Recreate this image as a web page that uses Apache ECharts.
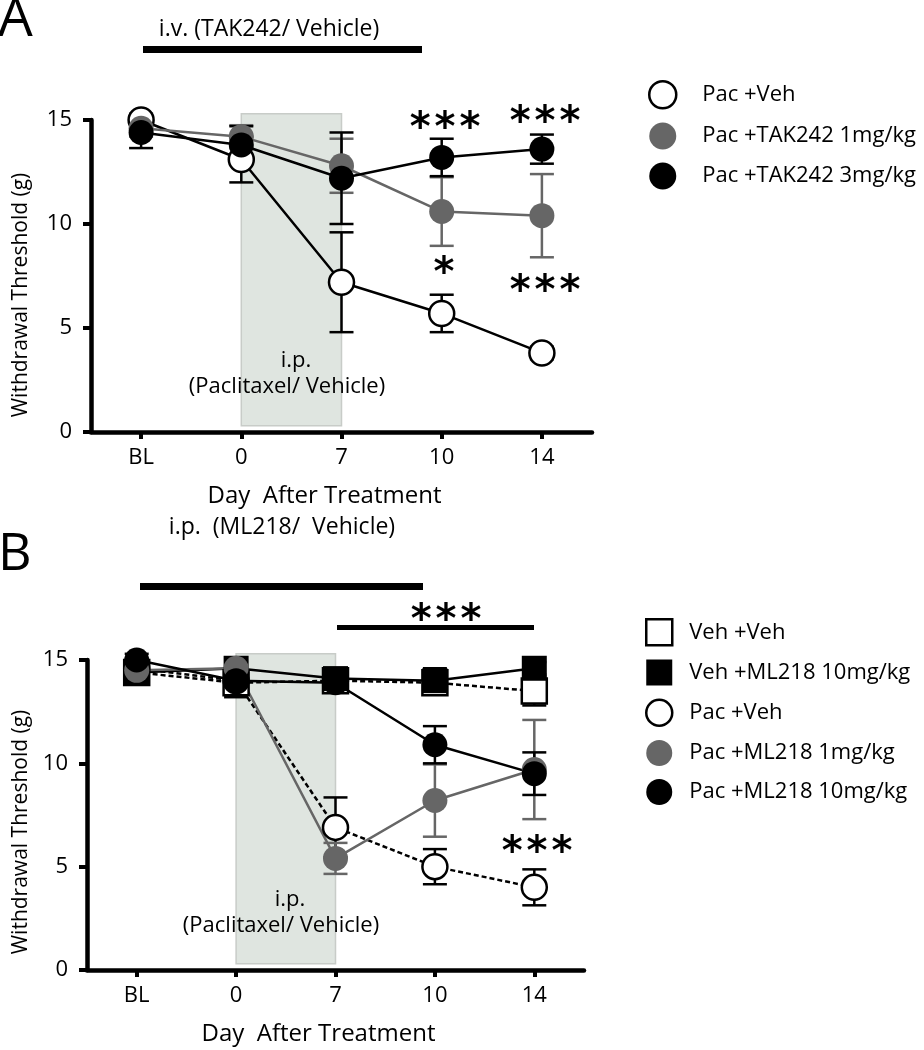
<!DOCTYPE html>
<html><head><meta charset="utf-8">
<script src="https://cdn.jsdelivr.net/npm/echarts@6/dist/echarts.min.js"></script>
<style>html,body{margin:0;padding:0;background:#fff}#c{width:924px;height:1050px}</style>
</head><body><div id="c"></div>
<script>
// ---- tick labels / categories ----
const dayLabels = ['BL', '0', '7', '10', '14'];
const dayIndex = [0, 1, 2, 3, 4];
const yTicks = [0, 5, 10, 15];

// ---- Panel A: TAK242 ----
const namesA = ['Pac +Veh', 'Pac +TAK242 1mg/kg', 'Pac +TAK242 3mg/kg'];
const A_pacVeh     = [15.0, 13.1, 7.2, 5.7, 3.8];
const A_pacVeh_sem = [0.3, 1.1, 2.4, 0.9, 0.3];
const A_tak1       = [14.6, 14.2, 12.8, 10.6, 10.4];
const A_tak1_sem   = [0.4, 0.55, 1.3, 1.65, 2.0];
const A_tak3       = [14.4, 13.8, 12.2, 13.2, 13.6];
const A_tak3_sem   = [0.75, 0.9, 2.2, 0.9, 0.7];

// ---- Panel B: ML218 ----
const namesB = ['Veh +Veh', 'Veh +ML218 10mg/kg', 'Pac +Veh', 'Pac +ML218 1mg/kg', 'Pac +ML218 10mg/kg'];
const B_vehVeh      = [14.4, 13.9, 14.0, 13.9, 13.5];
const B_vehVeh_sem  = [0.3, 0.7, 0.3, 0.5, 0.7];
const B_vehML       = [14.4, 14.6, 14.1, 14.0, 14.6];
const B_vehML_sem   = [0.3, 0.3, 0.3, 0.6, 0.3];
const B_pacVeh      = [14.6, 14.0, 6.9, 5.0, 4.0];
const B_pacVeh_sem  = [0.3, 0.5, 1.45, 0.85, 0.87];
const B_pacML1      = [14.5, 14.6, 5.4, 8.2, 9.7];
const B_pacML1_sem  = [0.3, 0.4, 0.75, 1.75, 2.4];
const B_pacML10     = [15.0, 14.0, 13.9, 10.9, 9.5];
const B_pacML10_sem = [0.3, 0.5, 0.4, 0.9, 1.03];

// paclitaxel dosing window (day 0 .. day 7), threshold span
const dosingWindow = [1, 2];
const dosingSpan = [0.3, 15.3];

const FONT = 'Open Sans';
const GRAY = '#666666';
const BLACK = '#000000';

function lineSeries(name, vals, ai, fill, border, lineColor, symbol, dashed) {
  return {
    type: 'line', name: name, xAxisIndex: ai, yAxisIndex: ai,
    data: vals.map((v, i) => [dayIndex[i], v]),
    symbol: symbol, symbolSize: 25, showAllSymbol: true,
    itemStyle: { color: fill, borderColor: border, borderWidth: border === 'none' ? 0 : 2.5 },
    lineStyle: { color: lineColor, width: 2.5, type: dashed ? [5, 3] : 'solid' },
    emphasis: { disabled: true }, z: 3, animation: false
  };
}
function errSeries(name, vals, sems, ai, color) {
  return {
    type: 'custom', name: name, xAxisIndex: ai, yAxisIndex: ai,
    data: vals.map((v, i) => [dayIndex[i], v, sems[i]]),
    encode: { x: 0, y: 1 }, clip: false, z: 2, animation: false, silent: true,
    renderItem: function (params, api) {
      const x = api.value(0), m = api.value(1), s = api.value(2);
      const t = api.coord([x, m + s]), b = api.coord([x, m - s]);
      const hw = 12, st = { stroke: color, lineWidth: 2.5 };
      return { type: 'group', children: [
        { type: 'line', shape: { x1: t[0], y1: t[1], x2: b[0], y2: b[1] }, style: st },
        { type: 'line', shape: { x1: t[0] - hw, y1: t[1], x2: t[0] + hw, y2: t[1] }, style: st },
        { type: 'line', shape: { x1: b[0] - hw, y1: b[1], x2: b[0] + hw, y2: b[1] }, style: st }
      ]};
    }
  };
}
function shadeSeries(ai) {
  return {
    type: 'custom', xAxisIndex: ai, yAxisIndex: ai, clip: false, z: 1, silent: true, animation: false,
    data: [[dosingWindow[0], dosingWindow[1], dosingSpan[0], dosingSpan[1]]],
    encode: { x: [0, 1], y: [2, 3] },
    renderItem: function (params, api) {
      const p0 = api.coord([api.value(0), api.value(3)]);
      const p1 = api.coord([api.value(1), api.value(2)]);
      return { type: 'rect', shape: { x: p0[0], y: p0[1], width: p1[0] - p0[0], height: p1[1] - p0[1] },
        style: { fill: '#dfe5e0', stroke: '#c8ccc8', lineWidth: 1.5 } };
    }
  };
}
function xAxisDef(gi) {
  return {
    type: 'value', gridIndex: gi, min: -0.5, max: 4.5,
    axisLine: { show: true, onZero: false, lineStyle: { color: BLACK, width: 4.5 } },
    axisTick: { show: true, customValues: dayIndex, length: 7, lineStyle: { color: BLACK, width: 4 } },
    axisLabel: { customValues: dayIndex, formatter: v => dayLabels[Math.round(v)], fontFamily: FONT, fontSize: 22, color: BLACK, margin: 15 },
    splitLine: { show: false },
    name: 'Day  After Treatment', nameLocation: 'middle', nameGap: 52,
    nameTextStyle: { fontFamily: FONT, fontSize: 24, color: BLACK, padding: [0, 34, 0, 0] }
  };
}
function yAxisDef(gi) {
  return {
    type: 'value', gridIndex: gi, min: yTicks[0], max: yTicks[yTicks.length - 1], interval: 5,
    axisLine: { show: true, onZero: false, lineStyle: { color: BLACK, width: 4.5 } },
    axisTick: { show: true, length: 8, lineStyle: { color: BLACK, width: 4 } },
    axisLabel: { fontFamily: FONT, fontSize: 22, color: BLACK, margin: 19 },
    splitLine: { show: false }
  };
}
function txt(x, y, s, size, align, fam, rot, weight) {
  return { type: 'text', x: x, y: y, z: 100, silent: true, rotation: rot || 0,
    style: { text: s, fontFamily: fam || FONT, fontSize: size, fontWeight: weight || 'normal', fill: BLACK, align: align || 'center', verticalAlign: 'middle' } };
}
function stars(x, y, s) { return txt(x, y, s, 40, 'center', 'DejaVu Sans', 0, 'bold'); }
function bar(x, y, w, h) {
  return { type: 'rect', z: 100, silent: true, shape: { x: x, y: y, width: w, height: h }, style: { fill: BLACK } };
}
const STAR3 = '*\u200A*\u200A*';
const YNAME = 'Withdrawal Threshold (g)';

const legendText = { fontFamily: FONT, fontSize: 22, color: BLACK };

const option = {
  backgroundColor: '#fff',
  animation: false,
  grid: [
    { left: 91, top: 120, width: 501, height: 312 },
    { left: 87, top: 660, width: 497, height: 310 }
  ],
  xAxis: [xAxisDef(0), xAxisDef(1)],
  yAxis: [yAxisDef(0), yAxisDef(1)],
  legend: [
    { orient: 'vertical', left: 648, top: 80, padding: 0, itemWidth: 27, itemHeight: 27, itemGap: 13,
      selectedMode: false, textStyle: Object.assign({ padding: [0, 0, 0, 21] }, legendText),
      data: [
        { name: namesA[0], icon: 'circle', itemStyle: { color: '#fff', borderColor: BLACK, borderWidth: 2.5 } },
        { name: namesA[1], icon: 'circle', itemStyle: { color: GRAY, borderWidth: 0 } },
        { name: namesA[2], icon: 'circle', itemStyle: { color: BLACK, borderWidth: 0 } }
      ] },
    { orient: 'vertical', left: 645, top: 618, padding: 0, itemWidth: 26, itemHeight: 26, itemGap: 13,
      selectedMode: false, textStyle: Object.assign({ padding: [0, 0, 0, 12] }, legendText),
      data: [
        { name: namesB[0], icon: 'rect', itemStyle: { color: '#fff', borderColor: BLACK, borderWidth: 2.5 } },
        { name: namesB[1], icon: 'rect', itemStyle: { color: BLACK, borderWidth: 0 } },
        { name: namesB[2], icon: 'circle', itemStyle: { color: '#fff', borderColor: BLACK, borderWidth: 2.5 } },
        { name: namesB[3], icon: 'circle', itemStyle: { color: GRAY, borderWidth: 0 } },
        { name: namesB[4], icon: 'circle', itemStyle: { color: BLACK, borderWidth: 0 } }
      ] }
  ],
  series: [
    shadeSeries(0),
    errSeries(namesA[0], A_pacVeh, A_pacVeh_sem, 0, BLACK),
    errSeries(namesA[1], A_tak1, A_tak1_sem, 0, GRAY),
    errSeries(namesA[2], A_tak3, A_tak3_sem, 0, BLACK),
    lineSeries(namesA[0], A_pacVeh, 0, '#fff', BLACK, BLACK, 'circle', false),
    lineSeries(namesA[1], A_tak1, 0, GRAY, 'none', GRAY, 'circle', false),
    lineSeries(namesA[2], A_tak3, 0, BLACK, 'none', BLACK, 'circle', false),

    shadeSeries(1),
    errSeries(namesB[0], B_vehVeh, B_vehVeh_sem, 1, BLACK),
    errSeries(namesB[1], B_vehML, B_vehML_sem, 1, BLACK),
    errSeries(namesB[2], B_pacVeh, B_pacVeh_sem, 1, BLACK),
    errSeries(namesB[3], B_pacML1, B_pacML1_sem, 1, GRAY),
    errSeries(namesB[4], B_pacML10, B_pacML10_sem, 1, BLACK),
    lineSeries(namesB[0], B_vehVeh, 1, '#fff', BLACK, BLACK, 'rect', true),
    lineSeries(namesB[1], B_vehML, 1, BLACK, 'none', BLACK, 'rect', false),
    lineSeries(namesB[2], B_pacVeh, 1, '#fff', BLACK, BLACK, 'circle', true),
    lineSeries(namesB[3], B_pacML1, 1, GRAY, 'none', GRAY, 'circle', false),
    lineSeries(namesB[4], B_pacML10, 1, BLACK, 'none', BLACK, 'circle', false)
  ],
  graphic: [
    // Panel A
    txt(-2, 20, 'A', 55, 'left'),
    txt(269, 29, 'i.v. (TAK242/ Vehicle)', 23),
    bar(143, 46, 279, 7),
    txt(21, 295, YNAME, 21, 'center', FONT, Math.PI / 2),
    txt(296, 361, 'i.p.', 22),
    txt(287, 387, '(Paclitaxel/ Vehicle)', 22),
    stars(445, 130, STAR3),
    stars(545, 124, STAR3),
    stars(444, 275, '*'),
    stars(545, 293, STAR3),
    // Panel B
    txt(-2, 555, 'B', 52, 'left'),
    txt(282, 527, 'i.p.  (ML218/  Vehicle)', 23),
    bar(140, 583, 283, 7),
    txt(21, 832, YNAME, 21, 'center', FONT, Math.PI / 2),
    stars(446, 622, STAR3),
    bar(337, 625, 197, 5),
    stars(537, 854, STAR3),
    txt(290, 900, 'i.p.', 22),
    txt(281, 926, '(Paclitaxel/ Vehicle)', 22)
  ]
};
const chart = echarts.init(document.getElementById('c'), null, { renderer: 'canvas' });
chart.setOption(option);
</script>
</body></html>
